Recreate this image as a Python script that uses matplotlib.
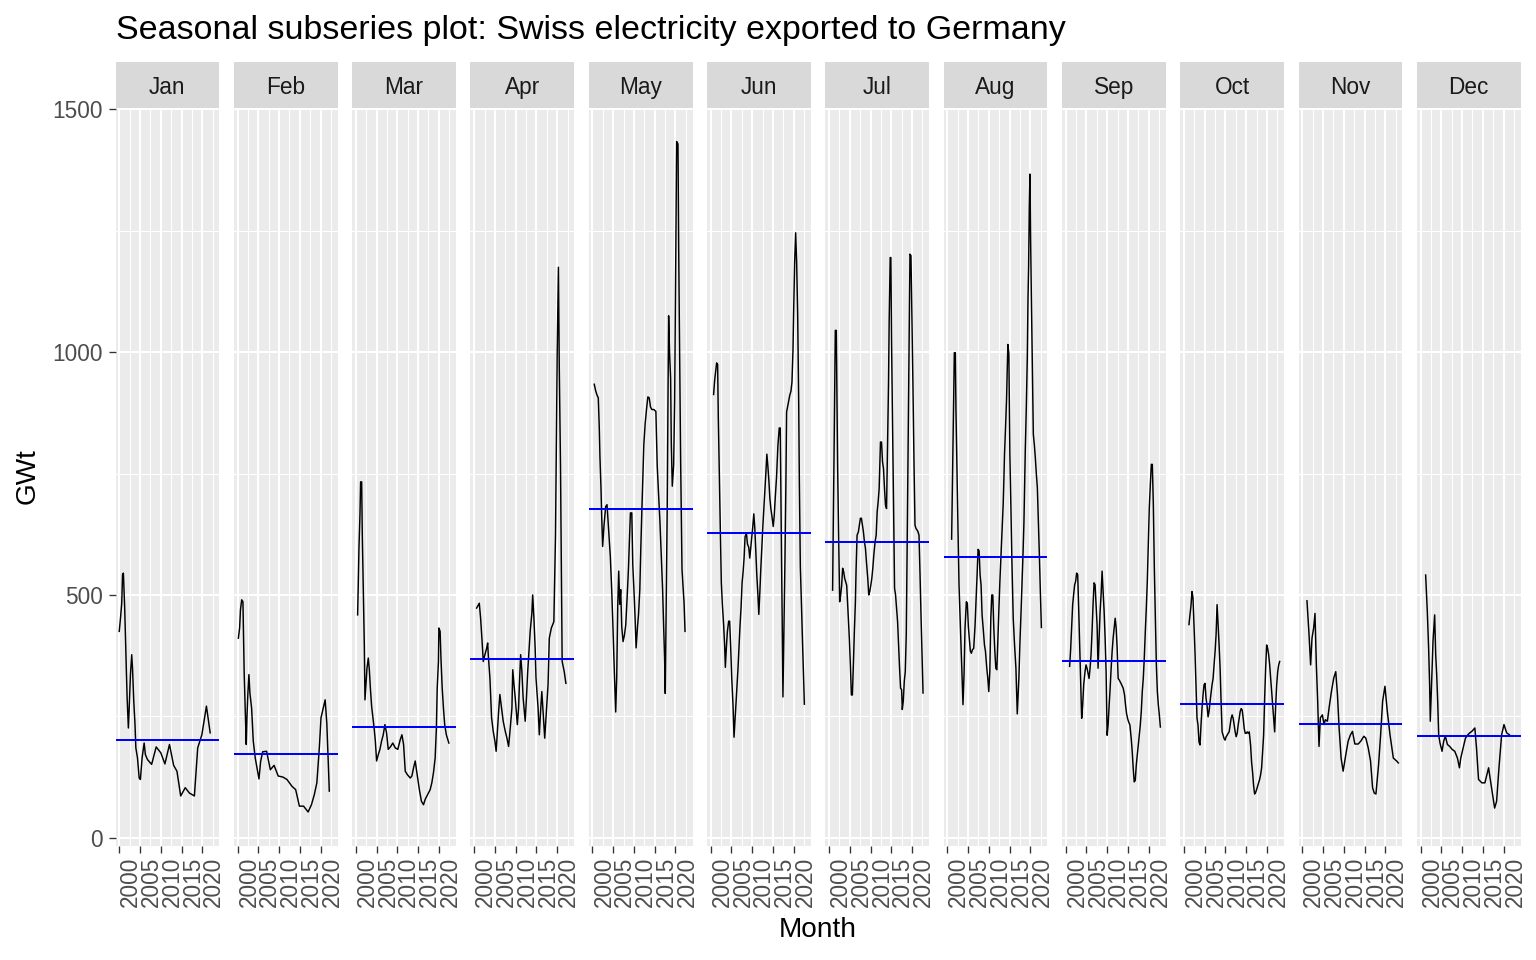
import matplotlib
matplotlib.use('Agg')
import matplotlib.pyplot as plt
from matplotlib.patches import Rectangle

# month labels and the mean line drawn in each panel
months = ['Jan', 'Feb', 'Mar', 'Apr', 'May', 'Jun', 'Jul', 'Aug', 'Sep', 'Oct', 'Nov', 'Dec']
month_means = [201, 173, 229, 368, 677, 628, 610, 578, 365, 275, 234, 210]

# each subseries: time in years after 2000, exports in GWt
jan_t = [0.0, 0.3, 0.6, 0.8, 1.0, 1.3, 1.5, 1.7, 1.9, 2.2, 2.4, 2.7, 3.0, 3.2, 3.5, 3.8, 4.0, 4.4, 4.8, 5.1,
         5.5, 6.0, 6.3, 6.8, 7.8, 8.9, 10.0, 11.0, 12.1, 13.1, 13.9, 14.8, 15.9, 16.9, 18.1, 18.9, 19.9, 21.0, 21.9]
jan_v = [425, 452, 483, 542, 545, 476, 414, 349, 288, 226, 267, 336, 377, 349, 281, 233, 185, 164, 123, 120,
         164, 195, 171, 161, 151, 187, 175, 152, 192, 149, 137, 86, 103, 92, 86, 185, 212, 271, 216]

feb_t = [0.2, 0.5, 0.7, 1.0, 1.3, 1.6, 1.85, 2.1, 2.26, 2.5, 2.74, 2.98, 3.39, 3.79, 4.27, 5.16, 5.56, 6.05, 7.0,
         7.9, 8.8, 9.8, 10.9, 11.9, 13.1, 14.0, 14.9, 15.9, 17.0, 17.8, 18.5, 19.1, 19.7, 20.1, 21.1, 21.5, 21.9, 22.1]
feb_v = [411, 432, 469, 490, 486, 339, 264, 192, 247, 298, 336, 298, 267, 199, 164, 121, 157, 177, 178,
         140, 149, 127, 125, 120, 106, 99, 65, 65, 53, 68, 89, 113, 185, 247, 284, 236, 144, 96]

mar_t = [0.43, 0.59, 0.75, 0.99, 1.15, 1.4, 1.56, 1.8, 2.04, 2.2, 2.54, 2.68, 3.0, 3.25, 3.5, 3.8, 4.4, 4.7, 5.0,
         5.4, 5.8, 6.2, 6.6, 7.0, 7.4, 7.8, 8.4, 8.9, 9.5, 10.1, 10.7, 11.1, 11.5, 11.9, 12.4, 13.1, 13.5, 13.9,
         14.3, 14.7, 15.3, 15.8, 16.3, 16.7, 17.3, 17.9, 18.3, 18.7, 19.1, 19.4, 19.6, 19.9, 20.0, 20.3, 20.5,
         20.8, 21.1, 21.4, 21.8, 22.4]
mar_v = [459, 524, 596, 664, 733, 733, 620, 510, 397, 284, 329, 349, 370, 346, 308, 271, 226, 199, 158,
         171, 182, 199, 212, 233, 216, 182, 188, 195, 185, 182, 202, 212, 192, 137, 130, 123, 127, 144,
         158, 134, 99, 75, 68, 79, 89, 99, 113, 134, 164, 226, 308, 363, 432, 425, 370,
         308, 267, 233, 212, 195]

apr_t = [0.6, 1.24, 1.56, 1.97, 2.2, 2.6, 3.0, 3.26, 3.4, 3.8, 4.2, 4.6, 5.0, 5.3, 5.6, 5.9, 6.2, 6.6, 7.0,
         7.5, 7.9, 8.3, 8.7, 9.1, 9.3, 9.6, 9.9, 10.4, 10.7, 10.9, 11.2, 11.5, 11.8, 12.3, 12.6, 12.9, 13.3,
         13.5, 13.9, 14.1, 14.4, 14.7, 14.9, 15.4, 15.7, 16.0, 16.3, 16.6, 17.0, 17.4, 17.8, 18.1, 18.6, 19.2,
         19.6, 19.8, 20.0, 20.3, 20.5, 20.8, 21.0, 21.2, 21.7, 22.1]
apr_v = [473, 483, 452, 397, 363, 377, 390, 401, 377, 329, 247, 219, 199, 178, 219, 260, 295, 267, 240,
         219, 205, 188, 226, 267, 346, 315, 288, 233, 267, 315, 377, 342, 288, 240, 288, 342, 397,
         425, 462, 500, 452, 390, 329, 267, 212, 260, 301, 260, 205, 260, 315, 411, 432, 445,
         623, 808, 993, 1175, 973, 767, 562, 363, 342, 318]

may_t = [0.44, 0.77, 1.09, 1.41, 1.65, 1.81, 2.06, 2.22, 2.46, 2.78, 3.19, 3.51, 3.67, 3.99, 4.31, 4.64, 4.96,
         5.28, 5.6, 5.85, 6.09, 6.33, 6.57, 6.81, 7.06, 7.38, 7.7, 8.02, 8.35, 8.67, 8.91, 9.15, 9.48, 9.72,
         10.04, 10.28, 10.52, 10.85, 11.09, 11.41, 11.65, 11.9, 12.14, 12.38, 12.7, 13.02, 13.35, 13.67, 13.99,
         14.31, 14.8, 15.28, 15.6, 15.93, 16.25, 16.57, 16.9, 17.14, 17.38, 17.54, 17.78, 18.02, 18.19, 18.35,
         18.59, 18.83, 18.99, 19.23, 19.56, 19.8, 19.96, 20.12, 20.28, 20.6, 20.77, 21.01, 21.25, 21.57, 21.81,
         22.06, 22.3]
may_v = [934, 921, 912, 906, 844, 784, 720, 665, 600, 643, 682, 686, 665, 622, 579, 511, 429,
         340, 259, 331, 476, 549, 481, 511, 434, 404, 417, 438, 494, 553, 613, 669, 669, 562,
         502, 451, 391, 434, 459, 511, 596, 673, 741, 810, 853, 882, 908, 906, 887,
         882, 882, 878, 767, 707, 652, 583, 511, 438, 370, 297, 494, 686, 895, 1075,
         994, 947, 814, 724, 767, 900, 1075, 1254, 1434, 1429, 1216, 989, 771, 553, 519,
         485, 425]

jun_t = [0.69, 0.94, 1.18, 1.42, 1.66, 1.82, 2.06, 2.31, 2.55, 2.79, 3.11, 3.35, 3.52, 3.76, 4.0, 4.32, 4.56,
         4.81, 5.05, 5.37, 5.61, 5.85, 6.1, 6.34, 6.58, 6.82, 7.06, 7.31, 7.55, 7.79, 8.03, 8.27, 8.6, 8.84,
         9.16, 9.4, 9.65, 9.89, 10.13, 10.37, 10.61, 10.85, 11.1, 11.34, 11.58, 11.82, 12.06, 12.31, 12.55,
         12.79, 13.03, 13.27, 13.52, 13.76, 14.0, 14.24, 14.48, 14.73, 15.05, 15.29, 15.53, 15.85, 16.18, 16.5,
         16.74, 16.9, 17.06, 17.23, 17.39, 17.63, 17.87, 18.11, 18.27, 18.52, 18.76, 19.0, 19.32, 19.56, 19.81,
         19.97, 20.21, 20.45, 20.69, 20.94, 21.18, 21.34, 21.58, 21.82, 22.06, 22.31, 22.55]
jun_v = [913, 942, 960, 978, 975, 866, 754, 634, 525, 482, 438, 395, 351, 391, 424, 446, 446,
         391, 330, 272, 207, 243, 279, 315, 351, 395, 438, 475, 525, 547, 576, 620, 627, 605,
         598, 576, 598, 620, 641, 667, 638, 591, 540, 504, 460, 504, 554, 598, 641,
         678, 714, 750, 790, 765, 736, 699, 678, 663, 641, 663, 699, 743, 808, 844,
         844, 707, 569, 431, 290, 431, 569, 736, 877, 888, 899, 910, 920, 938, 1004,
         1083, 1185, 1246, 1185, 1076, 902, 736, 558, 489, 417, 344, 275]

jul_t = [0.86, 1.02, 1.19, 1.35, 1.51, 1.75, 1.91, 2.07, 2.31, 2.56, 2.8, 3.04, 3.28, 3.52, 3.77, 4.01, 4.25,
         4.57, 4.89, 5.14, 5.38, 5.62, 5.86, 6.1, 6.35, 6.51, 6.75, 7.07, 7.31, 7.56, 7.8, 8.04, 8.28, 8.52,
         8.77, 9.01, 9.33, 9.57, 9.81, 10.06, 10.3, 10.54, 10.78, 11.1, 11.35, 11.59, 11.83, 12.07, 12.23,
         12.39, 12.64, 12.88, 13.12, 13.36, 13.6, 13.85, 14.09, 14.33, 14.49, 14.73, 14.89, 15.05, 15.29, 15.54,
         15.78, 16.02, 16.26, 16.51, 16.75, 16.99, 17.23, 17.48, 17.64, 17.88, 18.12, 18.36, 18.6, 18.77, 19.01,
         19.25, 19.49, 19.73, 19.98, 20.22, 20.46, 20.7, 20.94, 21.19, 21.43, 21.67, 21.91, 22.15, 22.4, 22.64]
jul_v = [510, 644, 777, 911, 1045, 1045, 904, 764, 623, 486, 500, 520, 555, 548, 534, 527, 520,
         466, 411, 356, 294, 294, 356, 425, 486, 551, 623, 630, 644, 658, 658, 644, 630, 610,
         596, 568, 534, 500, 507, 520, 534, 555, 582, 610, 623, 671, 692, 719, 767,
         815, 815, 774, 760, 719, 685, 678, 808, 938, 1068, 1195, 1195, 1027, 856, 685,
         514, 500, 473, 445, 397, 349, 308, 305, 264, 281, 322, 342, 418, 562, 774,
         990, 1202, 1199, 1062, 925, 774, 644, 637, 634, 630, 623, 544, 459, 377, 298]

aug_t = [1.03, 1.19, 1.35, 1.52, 1.68, 1.92, 2.08, 2.32, 2.56, 2.81, 3.05, 3.29, 3.53, 3.77, 4.02, 4.26, 4.58,
         4.82, 5.06, 5.31, 5.55, 5.79, 6.03, 6.35, 6.68, 6.92, 7.16, 7.4, 7.65, 7.89, 8.13, 8.37, 8.69, 8.94,
         9.18, 9.5, 9.74, 9.98, 10.23, 10.47, 10.71, 10.95, 11.19, 11.44, 11.68, 11.92, 12.16, 12.4, 12.65,
         12.97, 13.21, 13.45, 13.61, 13.77, 14.02, 14.26, 14.42, 14.58, 14.82, 15.06, 15.31, 15.55, 15.87,
         16.19, 16.52, 16.84, 17.24, 17.48, 17.73, 17.97, 18.21, 18.45, 18.77, 19.02, 19.26, 19.42, 19.58,
         19.74, 19.9, 20.06, 20.23, 20.47, 20.71, 20.95, 21.19, 21.44, 21.68, 21.92, 22.16, 22.4, 22.65]
aug_v = [615, 707, 803, 900, 999, 999, 879, 759, 639, 522, 459, 397, 336, 274, 336, 432, 486,
         483, 435, 408, 384, 380, 387, 390, 438, 490, 540, 594, 591, 541, 520, 459, 425, 397,
         384, 349, 329, 301, 342, 452, 500, 500, 432, 384, 349, 346, 404, 466, 527,
         591, 639, 687, 735, 790, 845, 903, 961, 1016, 996, 790, 680, 570, 452,
         397, 349, 255, 330, 400, 460, 520, 580, 650, 797, 886, 989, 1106, 1178,
         1298, 1367, 1229, 1119, 975, 831, 810, 783, 749, 721, 653, 584, 508, 433]

sep_t = [0.96, 1.2, 1.44, 1.69, 1.93, 2.17, 2.41, 2.65, 2.9, 3.14, 3.38, 3.62, 3.86, 4.1, 4.35, 4.67, 4.91,
         5.15, 5.39, 5.64, 5.88, 6.12, 6.36, 6.6, 6.85, 7.09, 7.33, 7.57, 7.81, 8.06, 8.3, 8.54, 8.78, 9.02,
         9.27, 9.51, 9.75, 9.99, 10.23, 10.48, 10.72, 10.96, 11.2, 11.44, 11.69, 11.93, 12.17, 12.41, 12.65,
         12.9, 13.14, 13.38, 13.86, 14.19, 14.43, 14.67, 14.91, 15.15, 15.48, 15.8, 16.04, 16.28, 16.52, 16.77,
         17.01, 17.25, 17.49, 17.73, 17.98, 18.22, 18.46, 18.7, 18.94, 19.19, 19.43, 19.67, 19.91, 20.15, 20.4,
         20.64, 20.88, 21.12, 21.36, 21.61, 21.85, 22.09, 22.33, 22.57, 22.81]
sep_v = [353, 387, 432, 480, 501, 521, 528, 545, 542, 473, 397, 322, 246, 273, 315, 342, 356,
         349, 339, 328, 349, 377, 425, 480, 525, 521, 480, 439, 349, 411, 466, 501, 549, 508,
         466, 411, 342, 211, 232, 273, 308, 349, 384, 411, 432, 452, 432, 390, 328,
         325, 321, 317, 308, 294, 273, 256, 246, 239, 232, 204, 177, 142, 115, 118,
         149, 170, 190, 211, 232, 260, 301, 328, 370, 425, 473, 528, 604, 680, 728,
         769, 769, 687, 556, 452, 356, 301, 273, 253, 228]

oct_t = [1.21, 1.45, 1.69, 1.94, 2.18, 2.42, 2.66, 2.9, 3.15, 3.39, 3.63, 3.87, 4.11, 4.35, 4.6, 4.84, 5.08,
         5.32, 5.56, 5.81, 6.05, 6.29, 6.53, 6.77, 7.02, 7.26, 7.5, 7.74, 7.98, 8.23, 8.47, 8.71, 8.95, 9.19,
         9.44, 9.68, 9.92, 10.16, 10.4, 10.65, 10.89, 11.13, 11.37, 11.61, 11.85, 12.1, 12.34, 12.58, 12.82,
         13.06, 13.31, 13.55, 13.79, 14.03, 14.27, 14.52, 14.76, 15.0, 15.24, 15.48, 15.73, 16.05, 16.29, 16.53,
         16.77, 17.02, 17.26, 17.5, 17.74, 17.98, 18.23, 18.47, 18.71, 18.95, 19.19, 19.44, 19.68, 19.92, 20.16,
         20.4, 20.65, 20.89, 21.13, 21.37, 21.61, 21.85, 22.1, 22.34, 22.58, 22.82, 23.06]
oct_v = [439, 459, 477, 507, 494, 439, 383, 315, 246, 232, 197, 191, 232, 266, 294, 315, 318,
         287, 273, 249, 260, 280, 298, 315, 328, 356, 383, 418, 480, 439, 397, 349, 280, 218,
         211, 204, 201, 208, 211, 215, 218, 232, 246, 253, 246, 232, 218, 208, 215,
         232, 246, 260, 266, 263, 246, 225, 215, 215, 218, 215, 218, 191, 156, 135,
         108, 90, 93, 99, 106, 113, 120, 130, 144, 177, 211, 287, 349, 397, 390,
         377, 356, 328, 301, 273, 246, 218, 273, 315, 342, 356, 363]

nov_t = [1.14, 1.62, 2.02, 2.35, 2.75, 3.07, 3.4, 3.72, 4.04, 4.36, 4.85, 5.25, 5.57, 6.06, 6.46, 7.03, 7.59,
         8.07, 8.48, 8.88, 9.36, 9.85, 10.49, 11.06, 11.62, 12.1, 12.67, 13.47, 14.11, 14.84, 15.32, 15.89,
         16.45, 16.94, 17.34, 17.75, 18.39, 18.88, 19.36, 19.92, 20.49, 21.14, 21.94, 22.74, 23.15]
nov_v = [488, 421, 356, 411, 432, 462, 356, 281, 188, 247, 253, 233, 243, 240, 267, 301, 329,
         342, 295, 226, 164, 137, 171, 199, 212, 219, 193, 193, 199, 209, 205, 185,
         158, 103, 92, 90, 151, 212, 281, 312, 260, 212, 164, 158, 154]

dec_t = [1.23, 1.63, 1.95, 2.19, 2.35, 2.68, 3.0, 3.4, 3.65, 3.89, 4.13, 4.37, 4.69, 5.18, 5.58, 5.98, 6.47,
         7.03, 7.6, 8.24, 8.89, 9.37, 9.69, 10.26, 10.82, 11.39, 11.87, 12.35, 13.08, 13.48, 13.97, 14.77,
         15.5, 15.9, 16.39, 16.87, 17.35, 17.84, 18.32, 18.89, 19.53, 20.1, 20.74, 21.39]
dec_v = [541, 466, 390, 315, 240, 322, 404, 459, 377, 336, 281, 212, 195, 178, 199, 209, 192,
         188, 182, 178, 164, 144, 164, 185, 205, 212, 216, 219, 226, 185, 120, 113,
         113, 127, 144, 116, 89, 61, 75, 144, 212, 233, 216, 212]

all_t = [jan_t, feb_t, mar_t, apr_t, may_t, jun_t, jul_t, aug_t, sep_t, oct_t, nov_t, dec_t]
all_v = [jan_v, feb_v, mar_v, apr_v, may_v, jun_v, jul_v, aug_v, sep_v, oct_v, nov_v, dec_v]

plt.rcParams['font.family'] = ['Liberation Sans', 'DejaVu Sans']

W, H = 1536, 960
fig = plt.figure(figsize=(16, 10), dpi=96)
fig.patch.set_facecolor('white')

# ggplot-like expansion of the shared y range
lo = min(min(v) for v in all_v)
hi = max(max(v) for v in all_v)
pad = 0.05 * (hi - lo)
ylim = (lo - pad, hi + pad)

# panel geometry in pixels
left0 = 115.5
step = 118.3
pw = 103.8
ptop = 108
pbot = 845.5
stop = 62

for i, m in enumerate(months):
	x0 = left0 + i * step
	ax = fig.add_axes([x0 / W, 1 - pbot / H, pw / W, (pbot - ptop) / H])
	ax.set_facecolor('#EBEBEB')
	for s in ax.spines.values():
		s.set_visible(False)

	# white grid like theme_gray
	for g in [250, 750, 1250]:
		ax.axhline(g, color='white', lw=0.8, zorder=0)
	for g in [0, 500, 1000, 1500]:
		ax.axhline(g, color='white', lw=1.5, zorder=0)
	for g in [2002.5, 2007.5, 2012.5, 2017.5, 2022.5]:
		ax.axvline(g, color='white', lw=0.8, zorder=0)
	for g in [2000, 2005, 2010, 2015, 2020]:
		ax.axvline(g, color='white', lw=1.5, zorder=0)

	years = [2000 + t for t in all_t[i]]
	ax.plot(years, all_v[i], color='black', lw=1.1, zorder=2)
	ax.axhline(month_means[i], color='blue', lw=1.5, zorder=3)

	ax.set_xlim(1999.1, 2024.1)
	ax.set_ylim(*ylim)
	ax.set_xticks([2000, 2005, 2010, 2015, 2020])
	ax.set_xticklabels(['2000', '2005', '2010', '2015', '2020'], rotation=90, ha='left')
	ax.tick_params(axis='x', length=5.5, width=1.0, color='#333333', labelsize=17,
		labelcolor='#4D4D4D', pad=3)
	if i == 0:
		ax.set_yticks([0, 500, 1000, 1500])
		ax.tick_params(axis='y', length=5.5, width=1.0, color='#333333', labelsize=17,
			labelcolor='#4D4D4D', pad=4)
	else:
		ax.set_yticks([])

	# strip with month name
	sax = fig.add_axes([x0 / W, 1 - ptop / H, pw / W, (ptop - stop) / H])
	sax.add_patch(Rectangle((0, 0), 1, 1, color='#D9D9D9', transform=sax.transAxes))
	sax.set_axis_off()
	sax.text(0.5, 0.45, m, ha='center', va='center', fontsize=17, color='#1A1A1A',
		transform=sax.transAxes)

fig.text(116 / W, 1 - 30 / H, 'Seasonal subseries plot: Swiss electricity exported to Germany',
	ha='left', va='center', fontsize=25.5, color='black')
fig.text(28 / W, 1 - 476 / H, 'GWt', rotation=90, ha='center', va='center', fontsize=21)
fig.text(818 / W, 1 - 930 / H, 'Month', ha='center', va='center', fontsize=21)

fig.savefig('out.png', dpi=96)
